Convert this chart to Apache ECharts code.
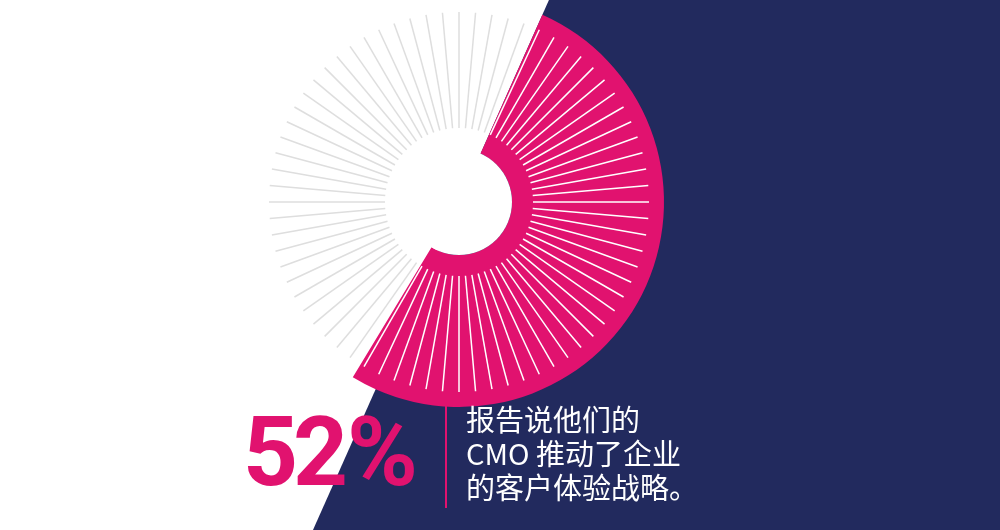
<!DOCTYPE html>
<html>
<head>
<meta charset="utf-8">
<script src="https://cdn.jsdelivr.net/npm/echarts@6/dist/echarts.min.js"></script>
<style>
html,body{margin:0;padding:0;background:#ffffff;}
#main{width:1000px;height:530px;}
</style>
</head>
<body>
<div id="main"></div>
<script>
// ---- data ----
const sharePercent = 52;          // CMOs driving CX strategy
const restPercent = 48;
const shareChars = ['5', '2', '%'];
const captionLines = ['报告说他们的', 'CMO 推动了企业', '的客户体验战略。'];
const rayAngles = [0,5,10,15,20,25,30,35,40,45,50,55,60,65,70,75,80,85,90,95,100,105,110,115,
  120,125,130,135,140,145,150,155,160,165,170,175,180,185,190,195,200,205,210,215,220,225,230,235,
  240,245,250,255,260,265,270,275,280,285,290,295,300,305,310,315,320,325,330,335,340,345,350,355];
const sectorStartDeg = 24; // clockwise from 12 o'clock

// ---- style ----
const PINK = '#E1126F';
const NAVY = '#222A5E';
const GRAY = '#DEDEDE';
const CX = 459, CY = 202, R_OUT = 205, R_HOLE = 53, RAY_IN = 74, RAY_OUT = 190;
const sectorEndDeg = sectorStartDeg + 360 * sharePercent / (sharePercent + restPercent);
const tanA = Math.tan(sectorStartDeg * Math.PI / 180);
const diagTop = CX + CY * tanA, diagBottom = CX - (530 - CY) * tanA;
const charX = [243, 293, 347];

const chart = echarts.init(document.getElementById('main'));
chart.setOption({
  backgroundColor: '#ffffff',
  animation: false,
  polar: { center: [CX, CY], radius: R_OUT },
  angleAxis: { type: 'value', min: 0, max: 360, startAngle: 90, clockwise: true, show: false },
  radiusAxis: { type: 'value', min: 0, max: R_OUT, show: false },
  graphic: [
    { type: 'polygon', z: 0, silent: true,
      shape: { points: [[diagTop, 0], [1000, 0], [1000, 530], [diagBottom, 530]] },
      style: { fill: NAVY } },
    { type: 'line', z: 10, silent: true,
      shape: { x1: 446, y1: 405, x2: 446, y2: 508 },
      style: { stroke: PINK, lineWidth: 2 } },
    ...shareChars.map((c, i) => ({
      type: 'text', z: 10, silent: true, left: charX[i], top: 413,
      style: { text: c, fill: PINK, fontFamily: 'Roboto', fontWeight: 'bold', fontSize: 96 }
    })),
    ...captionLines.map((t, i) => ({
      type: 'text', z: 10, silent: true, left: 466, top: 405 + i * 34,
      style: { text: t, fill: '#ffffff', fontFamily: '"Noto Sans CJK SC"', fontSize: 29 }
    }))
  ],
  series: [
    { type: 'pie', z: 2, silent: true, center: [CX, CY], radius: [R_HOLE, R_OUT],
      startAngle: 90 - sectorStartDeg, clockwise: true, label: { show: false }, labelLine: { show: false },
      emphasis: { disabled: true },
      data: [
        { value: sharePercent, itemStyle: { color: PINK } },
        { value: restPercent, itemStyle: { color: 'rgba(0,0,0,0)' } }
      ] },
    { type: 'pie', z: 3, silent: true, center: [CX, CY], radius: [0, R_HOLE],
      label: { show: false }, labelLine: { show: false }, emphasis: { disabled: true },
      data: [{ value: 1, itemStyle: { color: '#ffffff' } }] },
    { type: 'custom', z: 4, coordinateSystem: 'polar', silent: true,
      data: rayAngles.map(a => [a]),
      renderItem: function (params, api) {
        const a = api.value(0);
        const p1 = api.coord([RAY_IN, a]);
        const p2 = api.coord([RAY_OUT, a]);
        const inSector = a > sectorStartDeg && a < sectorEndDeg;
        return { type: 'line', shape: { x1: p1[0], y1: p1[1], x2: p2[0], y2: p2[1] },
          style: { stroke: inSector ? '#ffffff' : GRAY, lineWidth: 1.5 } };
      } }
  ]
});
</script>
</body>
</html>
